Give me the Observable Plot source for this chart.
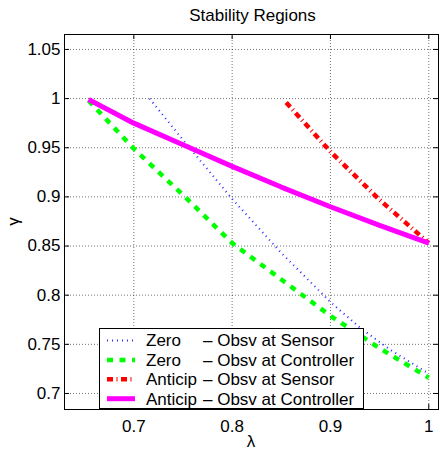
<!DOCTYPE html>
<html><head><meta charset="utf-8">
<script src="https://cdn.jsdelivr.net/npm/d3@7"></script>
<script src="https://cdn.jsdelivr.net/npm/@observablehq/plot@0.6"></script>
<style>
body{margin:0;background:#fff;}
#wrap{position:relative;width:440px;height:450px;background:#fff;}
#wrap svg{position:absolute;left:0;top:0;}
#wrap svg text{font-family:'Liberation Sans', Arial, Helvetica, sans-serif !important;font-size:17px !important;fill:#000;}
</style></head><body><div id="wrap"></div>
<script>
const FONT = "'Liberation Sans', Arial, Helvetica, sans-serif";

// ticks
const xTicks = [0.7, 0.8, 0.9, 1.0];
const yTicks = [0.7, 0.75, 0.8, 0.85, 0.9, 0.95, 1.0, 1.05];

// series: λ (x) and γ (y)
const zeroSensorLambda = [0.716, 0.75, 0.80, 0.85, 0.90, 0.93, 0.96, 0.997];
const zeroSensorGamma  = [1.000, 0.958, 0.898, 0.843, 0.793, 0.767, 0.745, 0.722];

const zeroCtrlLambda = [0.654, 0.70, 0.75, 0.80, 0.85, 0.90, 0.95, 1.0];
const zeroCtrlGamma  = [0.998, 0.949, 0.902, 0.853, 0.816, 0.779, 0.746, 0.716];

const antSensorLambda = [0.855, 0.90, 0.95, 1.0];
const antSensorGamma  = [0.996, 0.946, 0.897, 0.853];

const antCtrlLambda = [0.654, 0.70, 0.75, 0.80, 0.85, 0.90, 0.95, 1.0];
const antCtrlGamma  = [0.999, 0.975, 0.953, 0.931, 0.910, 0.890, 0.871, 0.853];

const seriesNames = [
  ["Zero", "– Obsv at Sensor"],
  ["Zero", "– Obsv at Controller"],
  ["Anticip", "– Obsv at Sensor"],
  ["Anticip", "– Obsv at Controller"]
];

const titleText = "Stability Regions";
const xLabel = "λ";
const yLabel = "γ";

const styles = [
  {stroke: "#2b2bff", strokeWidth: 2, strokeDasharray: "1,4"},
  {stroke: "#00ff00", strokeWidth: 4.5, strokeDasharray: "6,6.5"},
  {stroke: "#ff0000", strokeWidth: 4.5, strokeDasharray: "6,3.5,1,3.5"},
  {stroke: "#ff00ff", strokeWidth: 5}
];

const toRows = (xs, ys) => xs.map((x, i) => ({x, y: ys[i]}));
const series = [
  toRows(zeroSensorLambda, zeroSensorGamma),
  toRows(zeroCtrlLambda, zeroCtrlGamma),
  toRows(antSensorLambda, antSensorGamma),
  toRows(antCtrlLambda, antCtrlGamma)
];

const W = 440, H = 450;
const mL = 64, mR = 2, mT = 34, mB = 41;
const plotW = W - mL - mR, plotH = H - mT - mB;
const TL = 5;
const fmt = d => String(+d.toFixed(2));

const chart = Plot.plot({
  width: W, height: H,
  marginLeft: mL, marginRight: mR, marginTop: mT, marginBottom: mB,
  style: {fontFamily: FONT, fontSize: "17px", background: "white", color: "black"},
  x: {domain: [0.6295, 1.0099]},
  y: {domain: [0.6837, 1.0652]},
  marks: [
    Plot.gridX(xTicks, {stroke: "#000", strokeOpacity: 0.55, strokeDasharray: "1,2"}),
    Plot.gridY(yTicks, {stroke: "#000", strokeOpacity: 0.55, strokeDasharray: "1,2"}),
    Plot.tickX(xTicks, {x: d => d, insetTop: plotH - TL, stroke: "#000"}),
    Plot.tickX(xTicks, {x: d => d, insetBottom: plotH - TL, stroke: "#000"}),
    Plot.tickY(yTicks, {y: d => d, insetRight: plotW - TL, stroke: "#000"}),
    Plot.tickY(yTicks, {y: d => d, insetLeft: plotW - TL, stroke: "#000"}),
    Plot.axisX(xTicks, {tickSize: 0, tickPadding: 10, tickFormat: fmt, fontSize: 17, label: null}),
    Plot.axisY(yTicks, {tickSize: 0, tickPadding: 4, tickFormat: fmt, fontSize: 17, label: null}),
    ...series.map((rows, i) => Plot.line(rows, {x: "x", y: "y", ...styles[i], strokeOpacity: 1, strokeLinecap: "butt", strokeLinejoin: "miter"})),
    Plot.frame({stroke: "#000", strokeWidth: 1})
  ]
});
document.getElementById("wrap").appendChild(chart);

// overlay: title, axis labels, legend
const lg = d3.create("svg").attr("width", W).attr("height", H)
  .style("pointer-events", "none").style("font-family", FONT).style("font-size", "17px");

lg.append("text").attr("x", mL + plotW / 2 + 1.5).attr("y", 20.5)
  .attr("text-anchor", "middle").text(titleText);
lg.append("text").attr("x", mL + plotW / 2).attr("y", 446.5)
  .attr("text-anchor", "middle").text(xLabel);
lg.append("text").attr("transform", `translate(19,${mT + plotH / 2}) rotate(-90)`)
  .attr("text-anchor", "middle").text(yLabel);

const box = {x: 99.5, y: 328.5, w: 264, h: 80};
lg.append("rect").attr("x", box.x).attr("y", box.y).attr("width", box.w).attr("height", box.h)
  .attr("fill", "white").attr("stroke", "black").attr("stroke-width", 1);
seriesNames.forEach((nm, i) => {
  const cy = 340.5 + i * 19.4;
  const st = styles[i];
  lg.append("line").attr("x1", 107).attr("x2", 135).attr("y1", cy).attr("y2", cy)
    .attr("stroke", st.stroke).attr("stroke-width", st.strokeWidth)
    .attr("stroke-dasharray", st.strokeDasharray || null);
  lg.append("text").attr("x", 146).attr("y", cy).attr("dy", "0.35em").text(nm[0]);
  lg.append("text").attr("x", 203).attr("y", cy).attr("dy", "0.35em").text(nm[1]);
});
document.getElementById("wrap").appendChild(lg.node());
</script></body></html>
